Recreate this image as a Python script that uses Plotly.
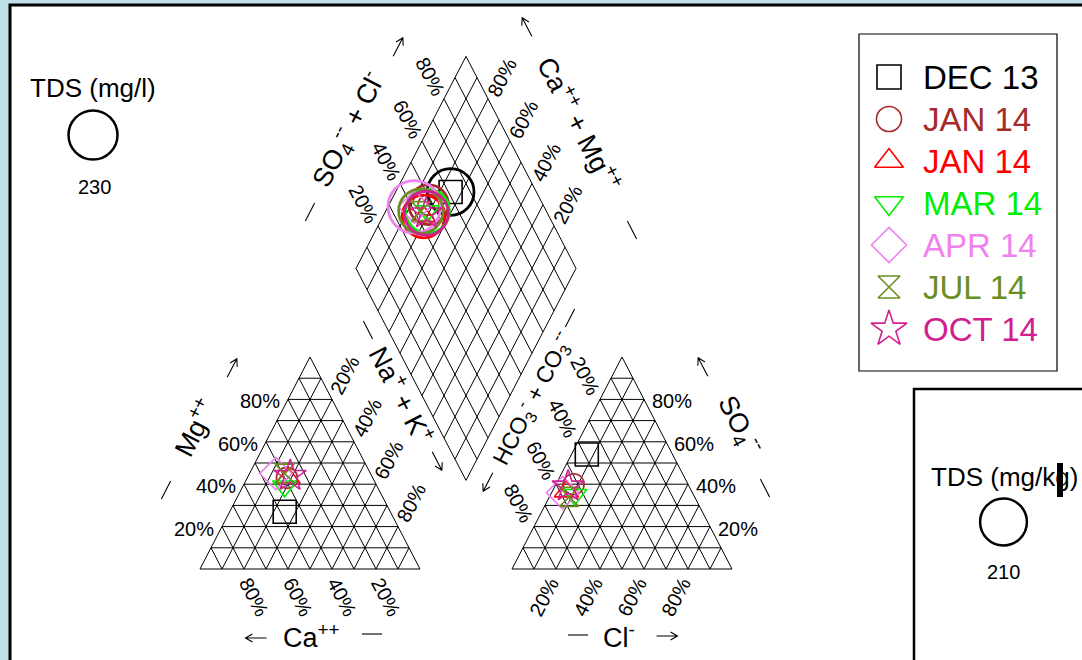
import math
import plotly.graph_objects as go

# ---------------- data ----------------
samples = ["DEC 13", "JAN 14", "JAN 14", "MAR 14", "APR 14", "JUL 14", "OCT 14"]
colors = ["#000000", "#a52a2a", "#ff0000", "#00ee00", "#ee82ee", "#6b8e23", "#d02090"]
symbols = ["square-open", "circle-open", "triangle-up-open", "triangle-down-open",
           "diamond-open", "hourglass-open", "star-open"]
ca = [48, 39, 38.5, 42, 43, 39, 37]        # % meq
mg = [27, 43, 43, 39, 45, 45, 44]
nak = [25, 18, 18.5, 19, 12, 16, 19]
hco3 = [39, 52, 57, 54, 59, 57, 55]
so4 = [54, 40, 36.5, 35, 36, 34, 39]
cl = [7, 8, 6.5, 11, 5, 9, 6]
tds = [210, 150, 175, 185, 265, 190, 185]   # mg/l
tds_ref_1 = 230
tds_ref_2 = 210
ticks = [20, 40, 60, 80]

# ---------------- geometry (pixel-like axis units) ----------------
W, Hpx = 1082, 660
X0, Y0 = 200.0, 569.0      # left triangle bottom-left
S, H = 220.0, 212.0        # side width, triangle height
GAP = 92.0
X1 = X0 + S + GAP          # right triangle bottom-left
BX, BY = X0 + S + GAP / 2, Y0 - GAP * H / S   # diamond bottom vertex
ANG = math.degrees(math.atan(2 * H / S))
FONT = "Liberation Sans, Arial, sans-serif"
EL = math.hypot(S / 2, H)
UR = (S / 2 / EL, -H / EL)     # up-right unit vector
DR = (S / 2 / EL, H / EL)      # down-right
UL = (-S / 2 / EL, -H / EL)    # up-left
DL = (-S / 2 / EL, H / EL)     # down-left
LEFT, RIGHT = (-1.0, 0.0), (1.0, 0.0)


def tri(ox, r, t):
    """r = fraction of bottom-right component, t = fraction of top component."""
    return ox + S * (r + t / 2.0), Y0 - H * t


def dia(a, c):
    """a = SO4+Cl fraction, c = Ca+Mg fraction."""
    return BX + a * S / 2 - c * S / 2, BY - a * H - c * H


def size_for(v):
    return 49.0 * math.sqrt(v / tds_ref_1)


# grid lines
gx, gy = [], []


def seg(p, q):
    gx.extend([p[0], q[0], None])
    gy.extend([p[1], q[1], None])


for ox in (X0, X1):
    for k in range(0, 11):
        t = k / 10.0
        seg(tri(ox, 0, t), tri(ox, 1 - t, t))
        seg(tri(ox, t, 0), tri(ox, t, 1 - t))
        seg(tri(ox, 1 - t, 0), tri(ox, 0, 1 - t))
for k in range(0, 11):
    t = k / 10.0
    seg(dia(t, 0), dia(t, 1))
    seg(dia(0, t), dia(1, t))

fig = go.Figure()
fig.add_trace(go.Scatter(x=gx, y=gy, mode="lines", line=dict(color="black", width=1),
                         hoverinfo="skip", showlegend=False))

# sample points
psz = {"square-open": 23, "circle-open": 21, "triangle-up-open": 21, "triangle-down-open": 21,
       "diamond-open": 25, "hourglass-open": 19, "star-open": 24}
for i in range(len(samples)):
    tot_c = ca[i] + mg[i] + nak[i]
    tot_a = hco3[i] + so4[i] + cl[i]
    px1, py1 = tri(X0, nak[i] / tot_c, mg[i] / tot_c)
    px2, py2 = tri(X1, cl[i] / tot_a, so4[i] / tot_a)
    px3, py3 = dia((so4[i] + cl[i]) / tot_a, (ca[i] + mg[i]) / tot_c)
    fig.add_trace(go.Scatter(x=[px1, px2, px3], y=[py1, py2, py3], mode="markers",
                             marker=dict(symbol=symbols[i], size=psz[symbols[i]], color=colors[i],
                                         line=dict(color=colors[i], width=1.6)),
                             showlegend=False, hoverinfo="skip"))
    fig.add_trace(go.Scatter(x=[px3], y=[py3], mode="markers",
                             marker=dict(symbol="circle-open", size=size_for(tds[i]),
                                         color=colors[i], line=dict(color=colors[i], width=2.8)),
                             showlegend=False, hoverinfo="skip"))

ann = []
deco = []


def A(x, y, text, size=20, angle=0, xa="center", ya="middle", color="black", fam=FONT):
    ann.append(dict(x=x, y=y, xref="x", yref="y", text=text, showarrow=False,
                    textangle=angle, xanchor=xa, yanchor=ya,
                    font=dict(family=fam, size=size, color=color)))


def arrow(x, y, d, length=21, head=8):
    tx, ty = x - d[0] * length / 2, y - d[1] * length / 2
    hx, hy = x + d[0] * length / 2, y + d[1] * length / 2
    pts = []
    for sgn in (1, -1):
        a = math.radians(30) * sgn
        rx = -d[0] * math.cos(a) + d[1] * math.sin(a)
        ry = -d[0] * math.sin(a) - d[1] * math.cos(a)
        pts.append((hx + rx * head, hy + ry * head))
    path = (f"M{tx:.2f},{ty:.2f} L{hx:.2f},{hy:.2f} "
            f"M{pts[0][0]:.2f},{pts[0][1]:.2f} L{hx:.2f},{hy:.2f} L{pts[1][0]:.2f},{pts[1][1]:.2f}")
    deco.append(dict(type="path", xref="x", yref="y", path=path,
                     line=dict(color="black", width=1.1)))


def dash(x, y, d, length=20):
    deco.append(dict(type="line", xref="x", yref="y",
                     x0=x - d[0] * length / 2, y0=y - d[1] * length / 2,
                     x1=x + d[0] * length / 2, y1=y + d[1] * length / 2,
                     line=dict(color="black", width=1.1)))


# tick labels
for t in ticks:
    f = t / 100.0
    lab = f"{t}%"
    # left triangle
    x, y = tri(X0, 0, f); A(x - 6, y + 2, lab, xa="right")
    x, y = tri(X0, f, 1 - f); A(x + 13, y - 24, lab, angle=-ANG)
    x, y = tri(X0, 1 - f, 0); A(x + 10, y + 28, lab, angle=ANG)
    # right triangle
    x, y = tri(X1, 1 - f, f); A(x + 6, y + 2, lab, xa="left")
    x, y = tri(X1, 0, 1 - f); A(x - 15.5, y - 24, lab, angle=ANG)
    x, y = tri(X1, f, 0); A(x - 12, y + 28, lab, angle=-ANG)
    # diamond
    x, y = dia(f, 1); A(x - 14.3, y - 22.3, lab, angle=ANG)
    x, y = dia(1, f); A(x + 13.5, y - 21, lab, angle=-ANG)

TS = 27

# cation titles
arrow(256, 638, LEFT)
A(311, 636, "Ca<sup>++</sup>", size=TS)
dash(372, 634, RIGHT)
dash(166, 490, UR)
A(194, 427, "Mg<sup>++</sup>", size=TS, angle=-ANG)
arrow(232, 368, UR)
dash(368, 330, DR)
A(402, 394, "Na<sup>+</sup> + K<sup>+</sup>", size=TS, angle=ANG)
arrow(437, 461, DR)
# anion titles
dash(578, 635, RIGHT)
A(619, 636, "Cl<sup>-</sup>", size=TS)
arrow(667, 636, RIGHT)
arrow(703, 367, UL)
A(740, 425, "SO<sub>4</sub><sup>--</sup>", size=TS, angle=ANG)
dash(765, 488, DR)
arrow(488, 482, DL)
A(532, 398, "HCO<sub>3</sub><sup>-</sup> + CO<sub>3</sub><sup>--</sup>", size=23, angle=-ANG)
dash(570, 318, UR)
# diamond titles
dash(310, 212, UR)
A(348, 130, "SO<sub>4</sub><sup>--</sup> + Cl<sup>-</sup>", size=TS, angle=-ANG)
arrow(398, 47, UR)
arrow(527, 27, UL)
A(580, 123, "Ca<sup>++</sup> + Mg<sup>++</sup>", size=TS, angle=ANG)
dash(632, 230, DR)

# TDS size keys
A(93, 88, "TDS (mg/l)", size=26)
fig.add_trace(go.Scatter(x=[93], y=[135], mode="markers",
                         marker=dict(symbol="circle-open", size=size_for(tds_ref_1), color="black",
                                     line=dict(color="black", width=2.5)),
                         showlegend=False, hoverinfo="skip"))
A(94, 187, str(tds_ref_1), size=20)

A(1004, 477, "TDS (mg/kg)", size=26)
fig.add_trace(go.Scatter(x=[1003.5], y=[522], mode="markers",
                         marker=dict(symbol="circle-open", size=size_for(tds_ref_2), color="black",
                                     line=dict(color="black", width=2.5)),
                         showlegend=False, hoverinfo="skip"))
A(1003, 572, str(tds_ref_2), size=20)

# legend
leg_y0, leg_dy = 77, 42
lsz = {"square-open": 24, "circle-open": 25, "triangle-up-open": 25, "triangle-down-open": 25,
       "diamond-open": 27, "hourglass-open": 22, "star-open": 27}
for i in range(len(samples)):
    yy = leg_y0 + i * leg_dy
    fig.add_trace(go.Scatter(x=[889], y=[yy], mode="markers",
                             marker=dict(symbol=symbols[i], size=lsz[symbols[i]], color=colors[i],
                                         line=dict(color=colors[i], width=1.6)),
                             showlegend=False, hoverinfo="skip"))
    A(921, yy, samples[i], size=33, xa="left", color=colors[i])

shapes = [
    dict(type="rect", xref="x", yref="y", x0=10, y0=5, x1=1095, y1=680,
         line=dict(color="black", width=3), fillcolor="white", layer="below"),
    dict(type="rect", xref="x", yref="y", x0=859, y0=34, x1=1057, y1=371,
         line=dict(color="black", width=1.2), fillcolor="white", layer="below"),
    dict(type="rect", xref="x", yref="y", x0=914, y0=389, x1=1095, y1=680,
         line=dict(color="black", width=2.5), fillcolor="white", layer="below"),
    dict(type="rect", xref="x", yref="y", x0=1057, y0=463, x1=1063, y1=497,
         line=dict(width=0), fillcolor="black", layer="above"),
] + deco

fig.update_layout(
    width=W, height=Hpx, margin=dict(l=0, r=0, t=0, b=0),
    paper_bgcolor="#bfe1e7", plot_bgcolor="rgba(0,0,0,0)",
    xaxis=dict(range=[0, W], visible=False, fixedrange=True),
    yaxis=dict(range=[Hpx, 0], visible=False, fixedrange=True),
    annotations=ann, shapes=shapes, showlegend=False,
)
fig.write_html("out.html", config={"displayModeBar": False, "staticPlot": True},
               post_script="document.body.style.margin='0';document.body.style.overflow='hidden';")
